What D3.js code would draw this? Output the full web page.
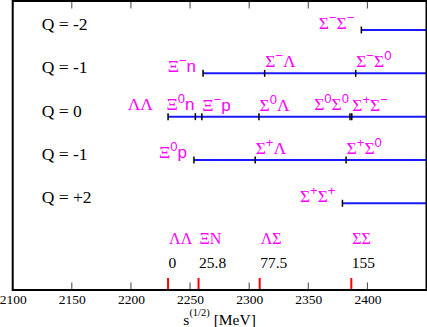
<!DOCTYPE html>
<html>
<head>
<meta charset="utf-8">
<script src="https://cdn.jsdelivr.net/npm/d3@7"></script>
<style>
  body { margin: 0; background: #fff; }
  svg { display: block; }
</style>
</head>
<body>
<svg width="427" height="327"></svg>
<script>
// row labels, top to bottom (the second "-1" is as in the original)
var rowNames = ["Q = -2", "Q = -1", "Q = 0", "Q = -1", "Q = +2"];

// channel thresholds per row [MeV]; "^" marks a superscript
var rowQm2 = [{name: "Σ^-Σ^-", mass: 2394.9, place: "lead"}];
var rowQm1 = [
  {name: "Ξ^-n", mass: 2261.0, place: "lead"},
  {name: "Σ^-Λ", mass: 2313.1, place: "tick"},
  {name: "Σ^-Σ^0", mass: 2390.1, place: "tick"}
];
var rowQ0 = [
  {name: "ΛΛ", mass: 2231.4, place: "leadHigh"},
  {name: "Ξ^0n", mass: 2254.5, place: "tickEnd"},
  {name: "Ξ^-p", mass: 2260.0, place: "tick"},
  {name: "Σ^0Λ", mass: 2308.3, place: "tick"},
  {name: "Σ^0Σ^0", mass: 2385.3, place: "tickEnd"},
  {name: "Σ^+Σ^-", mass: 2386.8, place: "tick"}
];
var rowQp1 = [
  {name: "Ξ^0p", mass: 2253.3, place: "lead"},
  {name: "Σ^+Λ", mass: 2305.1, place: "tick"},
  {name: "Σ^+Σ^0", mass: 2382.0, place: "tick"}
];
var rowQp2 = [{name: "Σ^+Σ^+", mass: 2378.9, place: "lead"}];
var rows = [rowQm2, rowQm1, rowQ0, rowQp1, rowQp2];

// thresholds marked on the axis
var thrNames = ["ΛΛ", "ΞN", "ΛΣ", "ΣΣ"];
var thrMass = [2231.4, 2257.2, 2308.9, 2386.4];
var thrText = ["0", "25.8", "77.5", "155"];

var xTicks = [2100, 2150, 2200, 2250, 2300, 2350, 2400];

var svg = d3.select("svg");
var pLeft = 12.7, pRight = 426.5, pTop = 1, pBottom = 290;

var x = d3.scaleLinear().domain([2100, 2450]).range([pLeft, pRight]);
var y = d3.scalePoint().domain(d3.range(rows.length)).range([30, 203.3]);

var serif = "'Liberation Serif', 'Times New Roman', serif";
var sans = "'Liberation Sans', Arial, sans-serif";
var magenta = "#ff00ff";

// bottom axis labels
var xAxis = d3.axisBottom(x).tickValues(xTicks).tickSize(0).tickPadding(0)
  .tickFormat(d3.format("d"));
var gx = svg.append("g").attr("transform", "translate(0," + pBottom + ")").call(xAxis);
gx.select(".domain").remove();
gx.selectAll("text")
  .attr("y", 13.5).attr("dy", 0)
  .style("font-family", serif).style("font-size", "13.5px").attr("fill", "#000");

// inward ticks, bottom and top
svg.append("g").selectAll("line").data(xTicks).enter().append("line")
  .attr("x1", function(d){ return x(d); }).attr("x2", function(d){ return x(d); })
  .attr("y1", pBottom).attr("y2", pBottom - 7.5)
  .attr("stroke", "#444").attr("stroke-width", 1);
svg.append("g").selectAll("line").data(xTicks).enter().append("line")
  .attr("x1", function(d){ return x(d); }).attr("x2", function(d){ return x(d); })
  .attr("y1", pTop).attr("y2", pTop + 7.5)
  .attr("stroke", "#444").attr("stroke-width", 1);

// red threshold marks
svg.append("g").selectAll("line").data(thrMass).enter().append("line")
  .attr("x1", function(d){ return x(d); }).attr("x2", function(d){ return x(d); })
  .attr("y1", pBottom).attr("y2", pBottom - 12)
  .attr("stroke", "#ff0000").attr("stroke-width", 2);

// threshold labels
svg.append("g").selectAll("text").data(thrNames).enter().append("text")
  .attr("x", function(d, i){ return x(thrMass[i]) + 1; })
  .attr("y", 243.5)
  .style("font-family", serif).style("font-size", "16px").attr("fill", magenta)
  .text(function(d){ return d; });
svg.append("g").selectAll("text").data(thrText).enter().append("text")
  .attr("x", function(d, i){ return x(thrMass[i]) + 0.5; })
  .attr("y", 268)
  .style("font-family", serif).style("font-size", "15.5px").attr("fill", "#000")
  .text(function(d){ return d; });

// axis title
var title = svg.append("text")
  .attr("x", (pLeft + pRight) / 2).attr("y", 324.5)
  .attr("text-anchor", "middle")
  .style("font-family", serif).style("font-size", "15.5px").attr("fill", "#000");
title.append("tspan").text("s");
title.append("tspan").attr("dy", -8.5).style("font-size", "10.5px").text("(1/2)");
title.append("tspan").attr("dy", 8.5).text(" [MeV]");

// row labels
svg.append("g").selectAll("text").data(rowNames).enter().append("text")
  .attr("x", 41.7).attr("y", function(d, i){ return y(i); })
  .style("font-family", serif).style("font-size", "17.5px").attr("fill", "#000")
  .text(function(d){ return d; });

// channel lines
svg.append("g").selectAll("line").data(rows).enter().append("line")
  .attr("x1", function(d){ return x(d[0].mass); }).attr("x2", pRight)
  .attr("y1", function(d, i){ return y(i); }).attr("y2", function(d, i){ return y(i); })
  .attr("stroke", "#1a1aff").attr("stroke-width", 2);

// channel ticks and labels
var placeOff = {
  lead:     {anchor: "end",   dx: -7,  dy: -1.5},
  leadHigh: {anchor: "end",   dx: -15, dy: -6.7},
  tick:     {anchor: "start", dx: 0.5, dy: -6},
  tickEnd:  {anchor: "end",   dx: -1,  dy: -6.7}
};

rows.forEach(function(row, ri){
  var g = svg.append("g");
  g.selectAll("line").data(row).enter().append("line")
    .attr("x1", function(d){ return x(d.mass); }).attr("x2", function(d){ return x(d.mass); })
    .attr("y1", y(ri) - 3.5).attr("y2", y(ri) + 3.5)
    .attr("stroke", "#000").attr("stroke-width", 1.5);

  g.selectAll("text").data(row).enter().append("text")
    .attr("x", function(d){ return x(d.mass) + placeOff[d.place].dx; })
    .attr("y", function(d){ return y(ri) + placeOff[d.place].dy; })
    .attr("text-anchor", function(d){ return placeOff[d.place].anchor; })
    .attr("fill", magenta)
    .each(function(d){
      var t = d3.select(this);
      var re = /([^\^])(\^(.))?/g, m, back = 0;
      while ((m = re.exec(d.name)) !== null) {
        var greek = /[Α-ω]/.test(m[1]);
        var base = t.append("tspan")
          .style("font-family", greek ? serif : sans)
          .style("font-size", greek ? "17.5px" : "17px")
          .text(m[1]);
        if (back) { base.attr("dy", back); back = 0; }
        if (m[3]) {
          t.append("tspan")
            .attr("dy", -7)
            .style("font-family", sans).style("font-size", "13px")
            .text(m[3] === "-" ? "\u2212" : m[3]);
          back = 7;
        }
      }
    });
});

// frame
svg.append("rect")
  .attr("x", pLeft).attr("y", pTop)
  .attr("width", pRight - pLeft).attr("height", pBottom - pTop)
  .attr("fill", "none").attr("stroke", "#000").attr("stroke-width", 2);
</script>
</body>
</html>
